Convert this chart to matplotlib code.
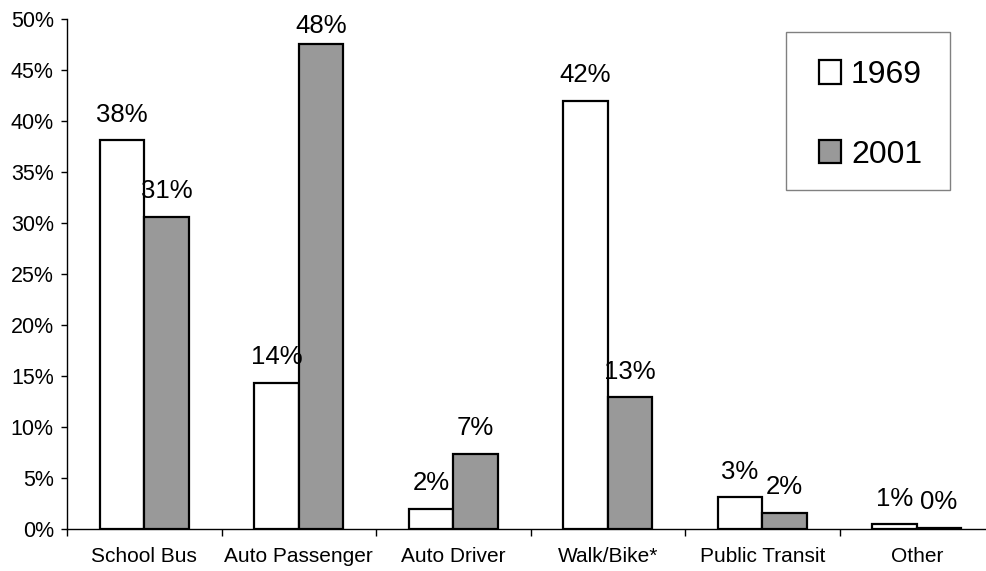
import numpy as np
import matplotlib.pyplot as plt
from matplotlib.patches import Rectangle
from matplotlib.ticker import MultipleLocator, FuncFormatter

plt.rcParams['font.family'] = ['Liberation Sans', 'DejaVu Sans']

categories = ['School Bus', 'Auto Passenger', 'Auto Driver', 'Walk/Bike*', 'Public Transit', 'Other']
share_1969 = [38.1, 14.3, 2.0, 42.0, 3.1, 0.45]
share_2001 = [30.6, 47.5, 7.4, 12.9, 1.6, 0.1]
labels_1969 = ['38%', '14%', '2%', '42%', '3%', '1%']
labels_2001 = ['31%', '48%', '7%', '13%', '2%', '0%']

W, H = 986, 571
fig = plt.figure(figsize=(W / 100, H / 100), dpi=100)
ax = fig.add_axes([67 / W, 1 - 529 / H, 927 / W, 510 / H])

x = np.arange(len(categories)) + 0.5
w = 0.288
b1 = ax.bar(x - w / 2, share_1969, w, color='white', edgecolor='black', linewidth=1.6, label='1969')
b2 = ax.bar(x + w / 2, share_2001, w, color='#999999', edgecolor='black', linewidth=1.6, label='2001')

ymax = 50
for bars, labs in ((b1, labels_1969), (b2, labels_2001)):
    for rect, lab in zip(bars, labs):
        cx = rect.get_x() + rect.get_width() / 2
        h = rect.get_height()
        # keep the label inside the plot area, like Excel does
        off = 13.5 if h < 46 else 8.0
        ax.annotate(lab, (cx, h), xytext=(0, off), textcoords='offset points',
                    ha='center', va='baseline', fontsize=18.5)

ax.set_xlim(0, len(categories))
ax.set_ylim(0, ymax)
ax.yaxis.set_major_locator(MultipleLocator(5))
ax.yaxis.set_major_formatter(FuncFormatter(lambda v, p: f'{v:.0f}%'))

ax.set_xticks(np.arange(len(categories) + 1))
ax.set_xticklabels([])
ax.set_xticks(x, minor=True)
ax.set_xticklabels(categories, minor=True)
ax.tick_params(axis='x', which='major', length=5, width=1, direction='out')
ax.tick_params(axis='x', which='minor', length=0, pad=13, labelsize=15)
ax.tick_params(axis='y', length=4.5, width=1, pad=5, labelsize=15.5)

for s in ('top', 'right'):
    ax.spines[s].set_visible(False)
for s in ('left', 'bottom'):
    ax.spines[s].set_linewidth(1)

# legend box drawn separately so its size matches the original
ax.add_patch(Rectangle((786 / W, 1 - 190 / H), 164 / W, 158 / H,
                       transform=fig.transFigure, facecolor='white',
                       edgecolor='#808080', linewidth=1, zorder=4, clip_on=False))
leg = ax.legend(loc='upper left', bbox_to_anchor=(819 / W, 1 - 60 / H),
                bbox_transform=fig.transFigure, fontsize=23, frameon=False,
                borderpad=0, labelspacing=1.56, handlelength=0.7,
                handleheight=0.75, handletextpad=0.3, borderaxespad=0)
leg.set_zorder(6)

fig.savefig('out.png', dpi=100)
